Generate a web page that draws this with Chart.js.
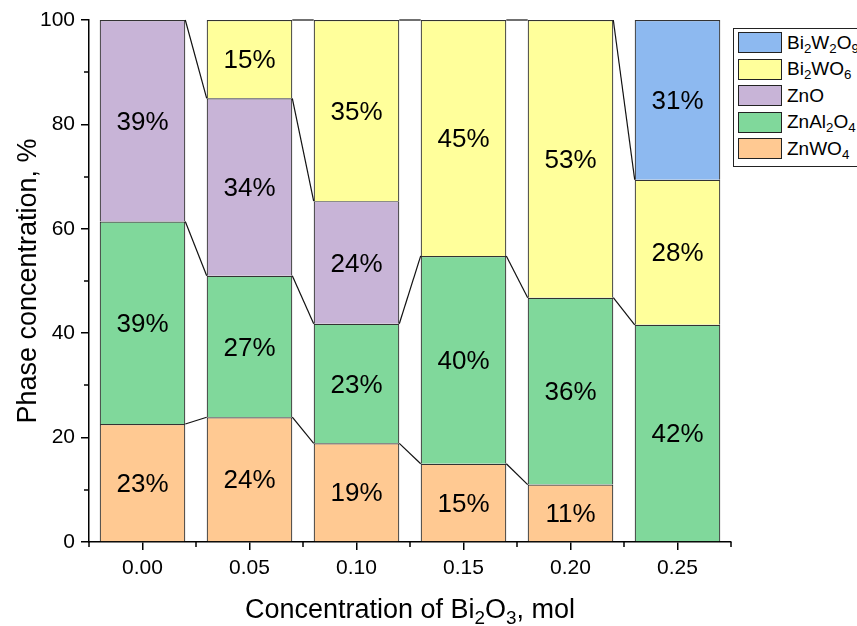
<!DOCTYPE html>
<html>
<head>
<meta charset="utf-8">
<script src="https://cdn.jsdelivr.net/npm/chart.js@4"></script>
<style>
  html, body { margin: 0; padding: 0; background: #fff; }
  #wrap { position: relative; width: 857px; height: 626px; overflow: hidden;
          font-family: 'Liberation Sans', Arial, sans-serif; color: #000; }
  #chart { position: absolute; left: 0; top: 0; }
  #xtitle { position: absolute; left: 89px; width: 642px; top: 596px; text-align: center;
            font-size: 27px; line-height: 1; white-space: nowrap; }
  sub { font-size: 0.7em; vertical-align: -0.3em; line-height: 0; }
  #legend { position: absolute; left: 733px; top: 28px; width: 150px; height: 139px;
            border: 1px solid #222; box-sizing: border-box; background: #fff; }
  .row { position: absolute; left: 4px; height: 21px; display: flex; align-items: center;
         white-space: nowrap; font-size: 19px; }
  .sw { width: 44px; height: 21px; box-sizing: border-box; border: 1.5px solid #222;
        margin-right: 5px; flex: none; }
</style>
</head>
<body>
<div id="wrap">
  <canvas id="chart" width="857" height="626"></canvas>
  <div id="xtitle">Concentration of Bi<sub>2</sub>O<sub>3</sub>, mol</div>
  <div id="legend"></div>
</div>
<script>
// Bi2O3 content of each sample, mol
const categories = ['0.00', '0.05', '0.10', '0.15', '0.20', '0.25'];

// Phase fractions, % (null = phase not detected)
const znwo4   = [22.6, 23.9, 18.9, 15.0, 11.0, null];
const znal2o4 = [38.8, 27.1, 22.9, 39.8, 35.8, 41.6];
const zno     = [38.6, 34.0, 23.5, null, null, null];
const bi2wo6  = [null, 15.0, 34.7, 45.2, 53.2, 27.8];
const bi2w2o9 = [null, null, null, null, null, 30.6];

const yTicks = [0, 20, 40, 60, 80, 100];
const yMinorTicks = [10, 30, 50, 70, 90];

const phases = [
  { name: 'ZnWO4',   html: 'ZnWO<sub>4</sub>',                      data: znwo4,   color: '#FFC992' },
  { name: 'ZnAl2O4', html: 'ZnAl<sub>2</sub>O<sub>4</sub>',         data: znal2o4, color: '#80D89B' },
  { name: 'ZnO',     html: 'ZnO',                                   data: zno,     color: '#C8B4D7' },
  { name: 'Bi2WO6',  html: 'Bi<sub>2</sub>WO<sub>6</sub>',          data: bi2wo6,  color: '#FFFF9B' },
  { name: 'Bi2W2O9', html: 'Bi<sub>2</sub>W<sub>2</sub>O<sub>9</sub>', data: bi2w2o9, color: '#8DB9F0' }
];

const FONT = "'Liberation Sans', Arial, sans-serif";

// Legend box, top phase first
const legend = document.getElementById('legend');
phases.slice().reverse().forEach((p, i) => {
  const row = document.createElement('div');
  row.className = 'row';
  row.style.top = (3 + i * 26.6) + 'px';
  row.innerHTML = '<div class="sw" style="background:' + p.color + '"></div><span>' + p.html + '</span>';
  legend.appendChild(row);
});

// Thin lines joining the top of each phase segment across neighbouring bars
const connectorPlugin = {
  id: 'connectors',
  afterDatasetsDraw(chart) {
    const ctx = chart.ctx;
    ctx.save();
    ctx.strokeStyle = '#111';
    ctx.lineWidth = 1.2;
    chart.data.datasets.forEach((ds, di) => {
      const meta = chart.getDatasetMeta(di);
      for (let i = 0; i < ds.data.length - 1; i++) {
        if (ds.data[i] == null || ds.data[i + 1] == null) continue;
        const a = meta.data[i], b = meta.data[i + 1];
        ctx.beginPath();
        ctx.moveTo(a.x + a.width / 2, a.y);
        ctx.lineTo(b.x - b.width / 2, b.y);
        ctx.stroke();
      }
    });
    ctx.restore();
  }
};

// Percentage written in the middle of every segment
const valueLabelPlugin = {
  id: 'valueLabels',
  afterDatasetsDraw(chart) {
    const ctx = chart.ctx;
    ctx.save();
    ctx.font = '26px ' + FONT;
    ctx.fillStyle = '#000';
    ctx.textAlign = 'center';
    ctx.textBaseline = 'middle';
    chart.data.datasets.forEach((ds, di) => {
      const meta = chart.getDatasetMeta(di);
      ds.data.forEach((v, i) => {
        if (v == null) return;
        const el = meta.data[i];
        ctx.fillText(Math.round(v) + '%', el.x, (el.y + el.base) / 2 + 2);
      });
    });
    ctx.restore();
  }
};

// Short outward minor ticks on both axes
const minorTickPlugin = {
  id: 'minorTicks',
  afterDraw(chart) {
    const ctx = chart.ctx;
    const xs = chart.scales.x, ys = chart.scales.y;
    ctx.save();
    ctx.strokeStyle = '#000';
    ctx.lineWidth = 1.5;
    const step = xs.getPixelForValue(1) - xs.getPixelForValue(0);
    const x0 = xs.getPixelForValue(0) - step / 2;
    for (let i = 0; i <= categories.length; i++) {
      const px = Math.round(x0 + i * step);
      ctx.beginPath();
      ctx.moveTo(px, ys.bottom);
      ctx.lineTo(px, ys.bottom + 5);
      ctx.stroke();
    }
    yMinorTicks.forEach(v => {
      const py = Math.round(ys.getPixelForValue(v));
      ctx.beginPath();
      ctx.moveTo(xs.left - 5, py);
      ctx.lineTo(xs.left, py);
      ctx.stroke();
    });
    ctx.restore();
  }
};

new Chart(document.getElementById('chart'), {
  type: 'bar',
  data: {
    labels: categories,
    datasets: phases.map(p => ({
      label: p.name,
      data: p.data,
      backgroundColor: p.color,
      borderColor: '#333',
      borderWidth: 1.2,
      borderSkipped: 'start',
      barPercentage: 0.8,
      categoryPercentage: 1.0,
      clip: 4
    }))
  },
  options: {
    responsive: false,
    animation: false,
    devicePixelRatio: 1,
    layout: { padding: { left: 0, top: 20, right: 126, bottom: 0 } },
    plugins: { legend: { display: false }, tooltip: { enabled: false } },
    scales: {
      x: {
        stacked: true,
        afterFit(scale) { scale.height = 84; },
        grid: { offset: false, drawOnChartArea: false, drawTicks: true, tickLength: 8,
                color: '#000', lineWidth: 1.5 },
        border: { display: true, color: '#000', width: 1.5 },
        ticks: { color: '#000', font: { family: FONT, size: 21 }, padding: 6,
                 maxRotation: 0 }
      },
      y: {
        stacked: true,
        min: 0,
        max: 100,
        afterFit(scale) { scale.width = 89; },
        afterBuildTicks(scale) { scale.ticks = yTicks.map(v => ({ value: v })); },
        grid: { drawOnChartArea: false, drawTicks: true, tickLength: 8,
                color: '#000', lineWidth: 1.5 },
        border: { display: true, color: '#000', width: 1.5 },
        ticks: { color: '#000', font: { family: FONT, size: 21 }, padding: 6 },
        title: { display: true, text: 'Phase concentration, %', color: '#000',
                 font: { family: FONT, size: 27 }, padding: { top: 12, bottom: 0 } }
      }
    }
  },
  plugins: [connectorPlugin, valueLabelPlugin, minorTickPlugin]
});
</script>
</body>
</html>
